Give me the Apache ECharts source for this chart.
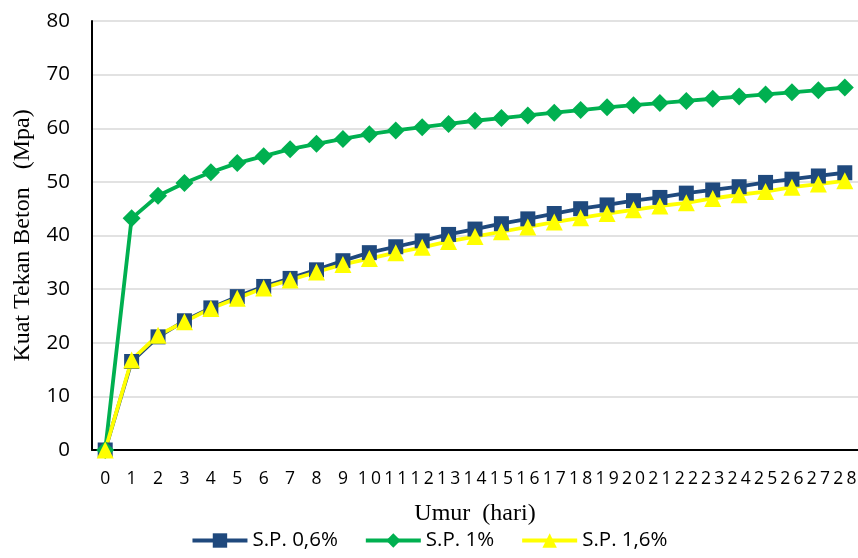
<!DOCTYPE html>
<html>
<head>
<meta charset="utf-8">
<script src="https://cdn.jsdelivr.net/npm/echarts@6/dist/echarts.min.js"></script>
<style>html,body{margin:0;padding:0;background:#fff}#c{width:858px;height:558px}</style>
</head>
<body>
<div id="c"></div>
<script>
const days = ['0','1','2','3','4','5','6','7','8','9','10','11','12','13','14','15','16','17','18','19','20','21','22','23','24','25','26','27','28'];
const sp06 = [0,16.5,21.1,24.1,26.5,28.6,30.5,32.0,33.6,35.3,36.8,37.9,39.0,40.2,41.2,42.2,43.1,44.1,45.0,45.7,46.5,47.1,47.9,48.5,49.1,49.9,50.5,51.1,51.7];
const sp1 = [0,43.2,47.4,49.8,51.8,53.5,54.8,56.1,57.1,58.0,58.9,59.6,60.2,60.8,61.4,61.9,62.4,62.9,63.4,63.9,64.3,64.7,65.1,65.5,65.9,66.3,66.7,67.1,67.6];
const sp16 = [0,16.8,21.4,23.9,26.4,28.3,30.2,31.7,33.2,34.6,35.7,36.8,37.8,38.9,39.8,40.7,41.6,42.5,43.3,44.1,44.8,45.5,46.1,46.9,47.6,48.2,49.0,49.6,50.2];
const seriesNames = ['S.P. 0,6%','S.P. 1%','S.P. 1,6%'];
const yTitle = 'Kuat Tekan Beton   (Mpa)';
const xTitle = 'Umur  (hari)';

const chart = echarts.init(document.getElementById('c'), null, {renderer:'canvas'});
const sans = '"Open Sans", "Noto Sans", sans-serif';
const serif = '"Liberation Serif", "DejaVu Serif", serif';
function mk(name, data, color, symbol, size){
  return {
    name, type:'line', data, symbol, symbolSize:size, showSymbol:true,
    lineStyle:{color, width:3.8}, itemStyle:{color, borderWidth:0},
    emphasis:{disabled:true}, animation:false
  };
}
chart.setOption({
  animation:false,
  grid:{left:92, right:0, top:21, bottom:108, containLabel:false, outerBoundsMode:'none'},
  xAxis:{
    type:'category', data:days, boundaryGap:true,
    name:xTitle, nameLocation:'middle', nameGap:52,
    nameTextStyle:{fontFamily:serif, fontSize:24, color:'#000'},
    axisLine:{lineStyle:{color:'#000', width:2}},
    axisTick:{show:false},
    axisLabel:{
      interval:0, hideOverlap:false, margin:20, color:'#000',
      formatter: v => v.split('').map(c => '{d|' + c + '}').join(''),
      rich:{d:{width:13.2, align:'center', fontFamily:sans, fontSize:17.5, color:'#000'}}
    }
  },
  yAxis:{
    type:'value', min:0, max:80, interval:10,
    name:yTitle, nameLocation:'middle', nameGap:57,
    nameTextStyle:{fontFamily:serif, fontSize:24, color:'#000'},
    axisLine:{show:true, lineStyle:{color:'#000', width:2}},
    axisTick:{show:false},
    axisLabel:{margin:22, fontFamily:sans, fontSize:20.5, color:'#000'},
    splitLine:{lineStyle:{color:'#d9d9d9', width:1.5}}
  },
  legend:{
    bottom:2, left:'center', itemWidth:55, itemHeight:18, itemGap:26,
    textStyle:{fontFamily:sans, fontSize:20.5, color:'#000'},
    lineStyle:{width:4},
    data:seriesNames
  },
  series:[
    mk(seriesNames[0], sp06, '#1f497d', 'rect', 15),
    mk(seriesNames[1], sp1, '#00b050', 'diamond', 18),
    mk(seriesNames[2], sp16, '#ffff00', 'triangle', 17)
  ]
});
</script>
</body>
</html>
